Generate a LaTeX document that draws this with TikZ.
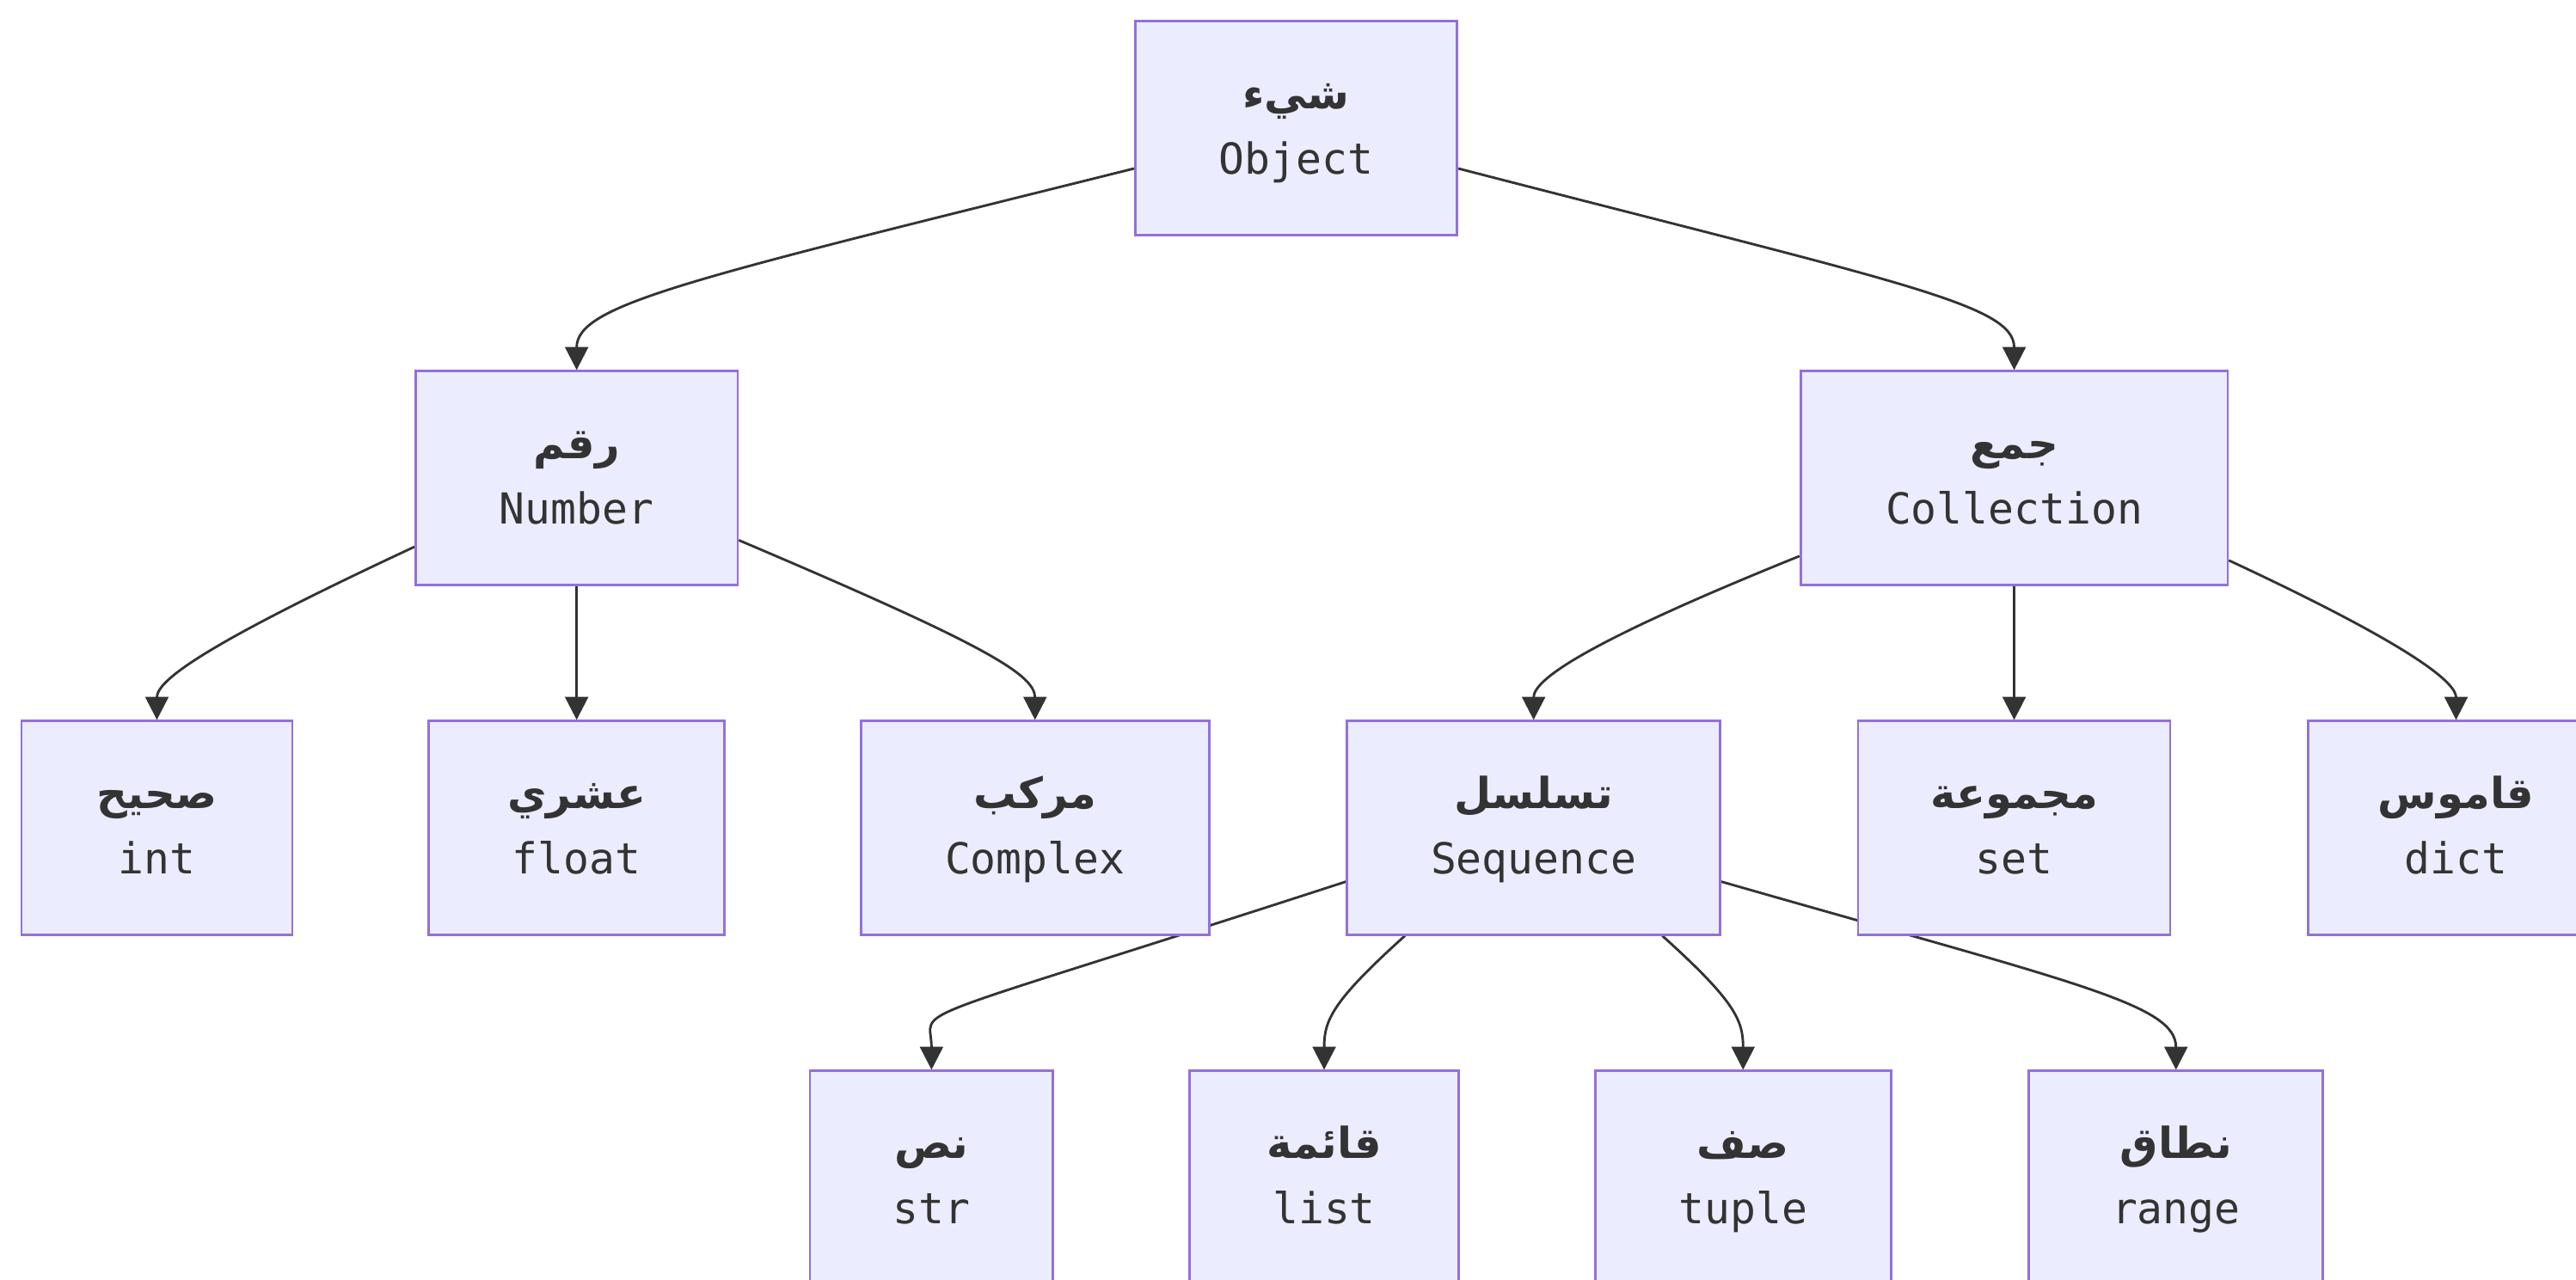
\documentclass[tikz,border=0pt]{standalone}
\usepackage{fontspec}
\setmonofont{DejaVu Sans Mono}
\newfontfamily\arabicfont[Script=Arabic]{DejaVu Sans}
\TeXXeTstate=1
\newcommand{\arlabel}[1]{{\arabicfont\bfseries\strut\beginR #1\endR}}
\newcommand{\pylabel}[1]{\strut\texttt{#1}}
\usepackage{tikz}
\usetikzlibrary{arrows.meta}
\usetikzlibrary{backgrounds}
\definecolor{boxfill}{HTML}{ECECFF}
\definecolor{boxline}{HTML}{9370DB}
\definecolor{inkline}{HTML}{333333}
\tikzset{%
  type box/.style={
    rectangle,
    draw=boxline,
    fill=boxfill,
    line width=0.7pt,
    text=inkline,
    align=center,
    inner sep=0pt,
    minimum height=65pt,
    font=\fontsize{13}{20}\selectfont
  },
  type link/.style={
    draw=inkline,
    line width=0.75pt,
    -{Triangle[length=7pt,width=7pt]}
  },
}

\begin{document}
\begin{tikzpicture}[x=0.5pt,y=-0.5pt]
  \useasboundingbox (0,0) rectangle (1568,779);
  \node (obj) at (789,78) [type box,minimum width=98pt]
  {\arlabel{شيء}\\\pylabel{Object}};
  \node (num) at (351,291) [type box,minimum width=98pt]
  {\arlabel{رقم}\\\pylabel{Number}};
  \node (col) at (1226,291) [type box,minimum width=130pt]
  {\arlabel{جمع}\\\pylabel{Collection}};
  \node (int) at (95.5,504) [type box,minimum width=82.5pt]
  {\arlabel{صحيح}\\\pylabel{int}};
  \node (flt) at (351,504) [type box,minimum width=90pt]
  {\arlabel{عشري}\\\pylabel{float}};
  \node (cpx) at (630,504) [type box,minimum width=106pt]
  {\arlabel{مركب}\\\pylabel{Complex}};
  \node (seq) at (933.5,504) [type box,minimum width=113.5pt]
  {\arlabel{تسلسل}\\\pylabel{Sequence}};
  \node (set) at (1226,504) [type box,minimum width=95pt]
  {\arlabel{مجموعة}\\\pylabel{set}};
  \node (dct) at (1495,504) [type box,minimum width=90pt]
  {\arlabel{قاموس}\\\pylabel{dict}};
  \node (str) at (567,717) [type box,minimum width=74pt]
  {\arlabel{نص}\\\pylabel{str}};
  \node (lst) at (806,717) [type box,minimum width=82pt]
  {\arlabel{قائمة}\\\pylabel{list}};
  \node (tup) at (1061,717) [type box,minimum width=90pt]
  {\arlabel{صف}\\\pylabel{tuple}};
  \node (rng) at (1324.5,717) [type box,minimum width=89.5pt]
  {\arlabel{نطاق}\\\pylabel{range}};

  \begin{pgfonlayer}{background}
  \draw [type link] (obj.194) .. controls +(194:140pt) and +(0,20pt) .. (num.north);
  \draw [type link] (obj.346) .. controls +(345.5:140pt) and +(0,20pt) .. (col.north);
  \draw [type link] (num.203) .. controls +(205:71pt) and +(0,12pt) .. (int.north);
  \draw [type link] (num) -- (flt);
  \draw [type link] (num.339) .. controls +(337:80pt) and +(0,14pt) .. (cpx.north);
  \draw [type link] (col.200) .. controls +(202:72pt) and +(0,12pt) .. (seq.north);
  \draw [type link] (col) -- (set);
  \draw [type link] (col.339) .. controls +(335:64pt) and +(0,11pt) .. (dct.north);
  \draw [type link] (seq.196) .. controls +(198:148pt) and +(0,20pt) .. (str.north);
  \draw [type link] (seq.220) .. controls +(222:30pt) and +(0,15pt) .. (lst.north);
  \draw [type link] (seq.320) .. controls +(318:30pt) and +(0,15pt) .. (tup.north);
  \draw [type link] (seq.344) .. controls +(344:113pt) and +(0,20pt) .. (rng.north);
  \end{pgfonlayer}
\end{tikzpicture}
\end{document}
